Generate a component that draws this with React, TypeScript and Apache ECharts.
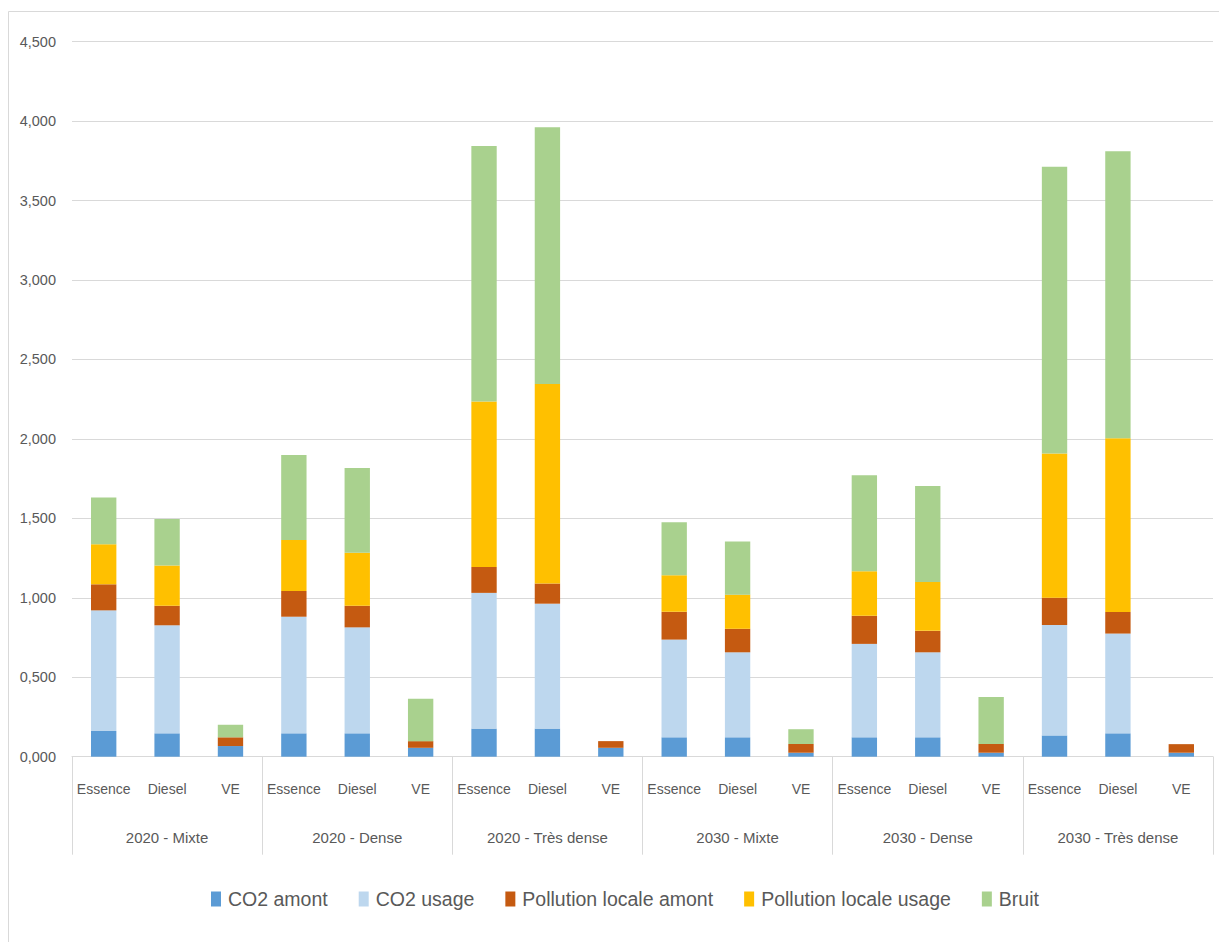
import React, { useEffect, useRef } from "react";
import * as echarts from "echarts";

const groups = ["2020 - Mixte", "2020 - Dense", "2020 - Très dense", "2030 - Mixte", "2030 - Dense", "2030 - Très dense"];
const vehicleTypes = ["Essence", "Diesel", "VE"];
const categories = groups.flatMap(() => vehicleTypes);

const seriesNames = ["CO2 amont", "CO2 usage", "Pollution locale amont", "Pollution locale usage", "Bruit"];
const seriesColors = ["#5B9BD5", "#BDD7EE", "#C55A11", "#FFC000", "#A9D18E"];

const co2Amont = [0.162, 0.147, 0.067, 0.147, 0.147, 0.056, 0.177, 0.177, 0.056, 0.122, 0.122, 0.025, 0.122, 0.122, 0.025, 0.134, 0.147, 0.025];
const co2Usage = [0.759, 0.680, 0, 0.734, 0.667, 0, 0.854, 0.786, 0, 0.615, 0.535, 0, 0.588, 0.535, 0, 0.695, 0.628, 0];
const pollutionAmont = [0.164, 0.123, 0.055, 0.162, 0.136, 0.042, 0.163, 0.127, 0.042, 0.175, 0.148, 0.055, 0.177, 0.135, 0.055, 0.172, 0.136, 0.054];
const pollutionUsage = [0.252, 0.254, 0, 0.321, 0.334, 0, 1.042, 1.256, 0, 0.230, 0.215, 0, 0.280, 0.308, 0, 0.908, 1.094, 0];
const bruit = [0.295, 0.292, 0.079, 0.535, 0.533, 0.267, 1.607, 1.615, 0, 0.333, 0.335, 0.093, 0.605, 0.604, 0.295, 1.804, 1.806, 0];

const seriesData = [co2Amont, co2Usage, pollutionAmont, pollutionUsage, bruit];

const FONT = '"Liberation Sans", Arial, sans-serif';
const TEXT = "#595959";
const LINE = "#D9D9D9";

export default function App() {
  const ref = useRef<HTMLDivElement>(null);
  useEffect(() => {
    if (!ref.current) return;
    const chart = echarts.init(ref.current, undefined, { renderer: "svg" });
    chart.setOption({
      animation: false,
      backgroundColor: "#ffffff",
      textStyle: { fontFamily: FONT },
      graphic: [
        {
          type: "rect",
          shape: { x: 8.5, y: 11.5, width: 1300, height: 1000 },
          style: { fill: "none", stroke: LINE, lineWidth: 1 },
          silent: true,
        },
      ],
      grid: { left: 72, right: 6, top: 41.7, bottom: 185.3, containLabel: false },
      legend: {
        left: 206,
        top: 884,
        itemWidth: 10,
        itemHeight: 15,
        itemGap: 31,
        icon: "rect",
        textStyle: { fontFamily: FONT, fontSize: 19.5, color: TEXT, padding: [0, 0, 0, 2] },
        data: seriesNames,
      },
      xAxis: [
        {
          type: "category",
          data: categories,
          position: "bottom",
          axisLine: { show: true, lineStyle: { color: LINE, width: 1 } },
          axisTick: { show: false },
          axisLabel: { interval: 0, margin: 25, fontFamily: FONT, fontSize: 14, color: TEXT },
        },
        {
          type: "category",
          data: groups,
          position: "bottom",
          axisLine: { show: false },
          axisTick: { show: true, interval: 0, length: 98, lineStyle: { color: LINE, width: 1 } },
          axisLabel: { interval: 0, margin: 73, fontFamily: FONT, fontSize: 15, color: TEXT },
        },
      ],
      yAxis: {
        type: "value",
        min: 0,
        max: 4.5,
        interval: 0.5,
        axisLine: { show: false },
        axisTick: { show: false },
        splitLine: { lineStyle: { color: LINE, width: 1 } },
        axisLabel: {
          margin: 16,
          fontFamily: FONT,
          fontSize: 14.5,
          color: TEXT,
          formatter: (v: number) => v.toFixed(3).replace(".", ","),
        },
      },
      series: seriesNames.map((name, i) => ({
        name,
        type: "bar",
        stack: "total",
        xAxisIndex: 0,
        barWidth: "40%",
        itemStyle: { color: seriesColors[i] },
        data: seriesData[i],
      })),
    });
    return () => chart.dispose();
  }, []);
  return (
    <div
      ref={ref}
      style={{ position: "fixed", left: 0, top: 0, width: 1219, height: 942, background: "#fff" }}
    />
  );
}
